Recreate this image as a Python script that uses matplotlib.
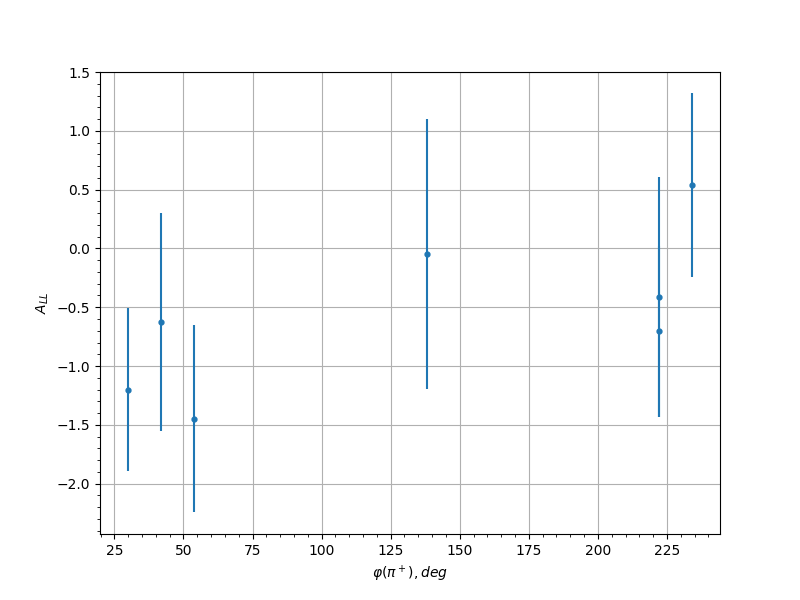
import matplotlib
matplotlib.use("Agg")
import matplotlib.pyplot as plt

# angle phi(pi+) in degrees, asymmetry and its error
phi = [30, 42, 54, 138, 222, 222, 234]
a_ll = [-1.20, -0.625, -1.45, -0.05, -0.415, -0.705, 0.538]
a_err = [0.69, 0.93, 0.795, 1.147, 1.02, 0.725, 0.782]

fig, ax = plt.subplots(figsize=(8, 6), dpi=100)
ax.errorbar(phi, a_ll, yerr=a_err, fmt='o', markersize=3.5)

ax.set_xlabel(r'$\varphi(\pi^+), deg$')
ax.set_ylabel(r'$A_{LL}$')
ax.set_ylim(-2.428, 1.5)
ax.minorticks_on()
ax.grid(True, which='major')

fig.savefig("out.png")
